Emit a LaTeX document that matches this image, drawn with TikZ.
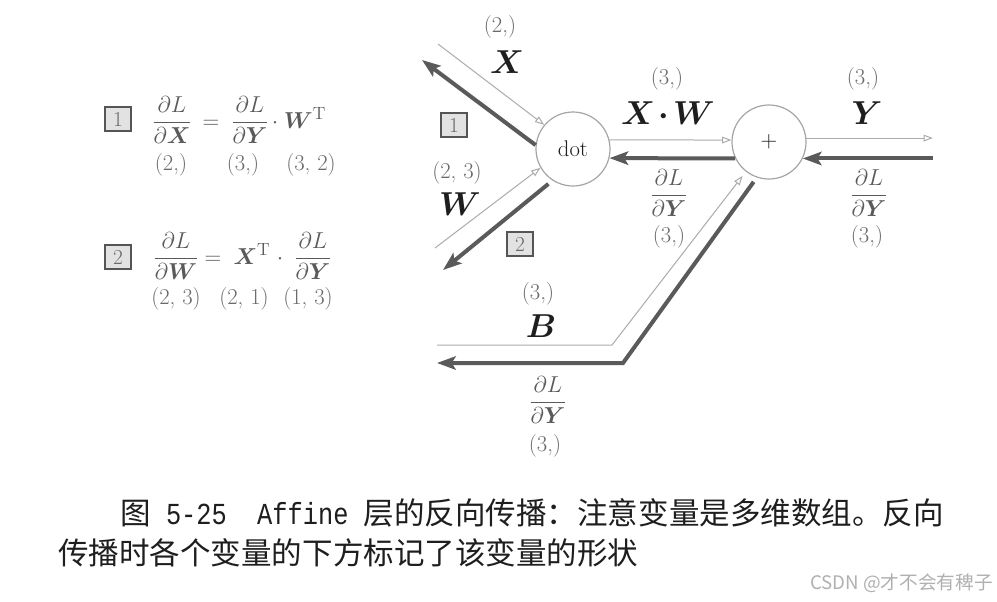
\documentclass[tikz,border=0pt]{standalone}
\usepackage{amsmath}
\usepackage{bm}
\usepackage{fontspec}
\newfontfamily\cjk{Noto Sans CJK SC}
\newfontfamily\capmono[FakeStretch=0.83]{Liberation Mono}
\usetikzlibrary{arrows.meta}
\definecolor{thinc}{HTML}{ABABAB}
\definecolor{thickc}{HTML}{5A5A5A}
\definecolor{circc}{HTML}{A5A5A5}
\definecolor{shapec}{HTML}{6A6A6A}
\definecolor{fracc}{HTML}{5A5A5A}
\definecolor{boxfill}{HTML}{E2E2E2}
\definecolor{boxdraw}{HTML}{555555}
\definecolor{labc}{HTML}{1E1E1E}
\definecolor{wmc}{HTML}{B0B0B0}
\tikzset{
 opnode/.style={circle, draw=circc, line width=0.9pt, fill=white, minimum size=55.5pt, inner sep=0pt, font=\fontsize{17}{19}\selectfont, text=labc},
 fwd/.style={draw=thinc, line width=0.75pt, -{Triangle[open, length=7pt, width=5pt]}},
 bwd/.style={draw=thickc, line width=3pt, -{Stealth[length=14pt, width=10pt, inset=3pt]}},
 numbox/.style={draw=boxdraw, line width=1.6pt, fill=boxfill, minimum width=20pt, minimum height=18.5pt, inner sep=0pt, text=shapec, font=\fontsize{16}{18}\selectfont},
 shp/.style={text=shapec, font=\fontsize{17}{19}\selectfont, inner sep=0pt},
 varlab/.style={text=labc, font=\fontsize{27}{30}\selectfont, inner sep=0pt},
 gfrac/.style={text=fracc, font=\fontsize{18}{21}\selectfont, inner sep=0pt},
 eqpart/.style={text=fracc, font=\fontsize{19}{22}\selectfont, inner sep=0pt, anchor=base},
 captxt/.style={text=labc, font=\fontsize{22.9}{26}\selectfont, inner sep=0pt, anchor=west},
}
\begin{document}
\begin{tikzpicture}[x=0.75pt, y=-0.75pt]
\fill[white] (0,0) rectangle (997,601);
\useasboundingbox (0,0) rectangle (997,601);

% ---- left formulas ----
\node[numbox] (lb1) at (118,119) {1};
\node[eqpart] (f1a) at (172,128) {$\dfrac{\partial L}{\partial\bm{X}}$};
\node[eqpart] (f1e) at (211,128) {$=$};
\node[eqpart] (f1b) at (250,128) {$\dfrac{\partial L}{\partial\bm{Y}}$};
\node[eqpart] (f1c) at (275,128) {$\cdot$};
\node[eqpart] (f1d) at (305,128) {$\bm{W}^{\mathrm{T}}$};
\node[shp] (s1a) at (171,165) {(2,)};
\node[shp] (s1b) at (243,165) {(3,)};
\node[shp] (s1c) at (311,165) {(3, 2)};

\node[numbox] (lb2) at (118,257) {2};
\node[eqpart] (f2a) at (176,264) {$\dfrac{\partial L}{\partial\bm{W}}$};
\node[eqpart] (f2e) at (213,264) {$=$};
\node[eqpart] (f2b) at (252,264) {$\bm{X}^{\mathrm{T}}$};
\node[eqpart] (f2c) at (280,264) {$\cdot$};
\node[eqpart] (f2d) at (313,264) {$\dfrac{\partial L}{\partial\bm{Y}}$};
\node[shp] (s2a) at (176,299) {(2, 3)};
\node[shp] (s2b) at (244,299) {(2, 1)};
\node[shp] (s2c) at (308,299) {(1, 3)};

% ---- graph ----
\node[opnode] (dot) at (573,149) {dot};
\node[opnode] (plus) at (769,142) {$+$};

\coordinate (xin) at (438,44);
\coordinate (xout) at (422,60);
\coordinate (win) at (435,248);
\coordinate (wout) at (443,270);
\coordinate (yx) at (933,0);
\coordinate (bthin) at (612,345);
\coordinate (bthick) at (623,363);
\coordinate (bx) at (437,0);

\draw[fwd] (xin) -- (dot.140);
\draw[bwd] (dot.174) -- (xout);
\draw[fwd] (win) -- (dot.210);
\draw[bwd, shorten <=4pt] (dot.237) -- (wout);

\draw[fwd] (dot.14) -- (plus.177);
\draw[bwd] (plus.206) -- (dot.-14);

\draw[fwd] (plus.6) -- (plus.6 -| yx);
\draw[bwd] (yx |- plus.-26) -- (plus.-26);

\draw[fwd, shorten >=4pt] (bx |- bthin) -- (bthin) -- (plus.232);
\draw[bwd, shorten <=4pt] (plus.251) -- (bthick) -- (bx |- bthick);

\node[numbox] (b1) at (454,125) {1};
\node[numbox] (b2) at (520,244) {2};

\node[shp] (xs) at (500,27) {(2,)};
\node[varlab] (xl) at (507,62) {$\bm{X}$};
\node[shp] (ws) at (457,173) {(2, 3)};
\node[varlab] (wl) at (460,204) {$\bm{W}$};
\node[shp] (xws) at (667,79) {(3,)};
\node[varlab] (xwl) at (668,113) {$\bm{X}\mkern-2mu\bm{\cdot}\mkern-2mu\bm{W}$};
\node[shp] (ys) at (863,79) {(3,)};
\node[varlab] (yl) at (867,113) {$\bm{Y}$};
\node[gfrac] (g1) at (669,193) {$\dfrac{\partial L}{\partial\bm{Y}}$};
\node[shp] (g1s) at (669,237) {(3,)};
\node[gfrac] (g2) at (869,193) {$\dfrac{\partial L}{\partial\bm{Y}}$};
\node[shp] (g2s) at (867,237) {(3,)};
\node[shp] (bs) at (538,294) {(3,)};
\node[varlab] (bl) at (541,326) {$\bm{B}$};
\node[gfrac] (g3) at (548,400) {$\dfrac{\partial L}{\partial\bm{Y}}$};
\node[shp] (g3s) at (545,446) {(3,)};

% ---- caption ----
\node[captxt] (cap1) at (120,513) {{\cjk 图}{\capmono\ 5-25\ \ Affine\ }{\cjk 层的反向传播：注意变量是多维数组。反向}};
\node[captxt] (cap2) at (58,553) {{\cjk 传播时各个变量的下方标记了该变量的形状}};
\node[anchor=east, text=wmc, inner sep=0pt, font=\cjk\fontsize{14}{16}\selectfont] (wm) at (993,583) {CSDN @才不会有稗子};
\end{tikzpicture}
\end{document}
